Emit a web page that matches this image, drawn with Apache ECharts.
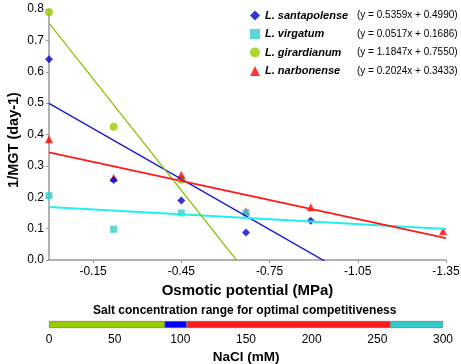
<!DOCTYPE html>
<html>
<head>
<meta charset="utf-8">
<script src="https://cdn.jsdelivr.net/npm/echarts@6/dist/echarts.min.js"></script>
<style>
html, body { margin: 0; padding: 0; background: #fff; }
#main { width: 461px; height: 364px; }
</style>
</head>
<body>
<div id="main"></div>
<script>
//渗透势 (MPa)
var osmotic = [0, -0.22, -0.45, -0.67, -0.89, -1.34];
//各物种 1/MGT
var santapolense = [0.64, 0.255, 0.19, 0.088, 0.125, null];
var virgatum = [0.205, 0.098, 0.15, 0.15, null, null];
var girardianum = [0.79, 0.425, 0.256, null, null, null];
var narbonense = [0.385, 0.262, 0.272, 0.155, 0.168, 0.092];
//趋势线系数 (y = a x + b)
var slopes = [0.5359, 0.0517, 1.1847, 0.2024];
var intercepts = [0.4990, 0.1686, 0.7550, 0.3433];
var speciesNames = ['L. santapolense', 'L. virgatum', 'L. girardianum', 'L. narbonense'];
var xTicks = [-0.15, -0.45, -0.75, -1.05, -1.35];
var yTicks = [0, 0.1, 0.2, 0.3, 0.4, 0.5, 0.6, 0.7, 0.8];
//盐浓度范围 (mM)
var rangeEnds = [88, 105, 260, 300];
var naclTicks = [0, 50, 100, 150, 200, 250, 300];

var FONT = 'Liberation Sans';
var colors = ['#0000cc', '#33cccc', '#99cc00', '#ff0000'];
var lineColors = ['#1a1acc', '#22eeee', '#8cc000', '#ff1a1a'];
var lineWidths = [1.4, 2, 1.3, 1.8];
var symbols = ['diamond', 'rect', 'circle', 'triangle'];
var symbolSizes = [8, 7, 8, 8];
var seriesValues = [santapolense, virgatum, girardianum, narbonense];

var pairs = function(vals) {
	var out = [];
	for (var i = 0; i < osmotic.length; i++) {
		if (vals[i] != null) out.push([osmotic[i], vals[i]]);
	}
	return out;
};

var series = [];
//趋势线
for (var k = 0; k < 4; k++) {
	var xEnd = xTicks[xTicks.length - 1];
	series.push({
		type: 'line',
		xAxisIndex: 0,
		yAxisIndex: 0,
		clip: true,
		symbol: 'none',
		silent: true,
		lineStyle: { color: lineColors[k], width: lineWidths[k] },
		data: [[0, intercepts[k]], [xEnd, slopes[k] * xEnd + intercepts[k]]]
	});
}
//散点 (绘制顺序: 绿, 红, 蓝, 青)
var drawOrder = [2, 3, 0, 1];
drawOrder.forEach(function(k) {
	series.push({
		name: speciesNames[k],
		type: 'scatter',
		xAxisIndex: 0,
		yAxisIndex: 0,
		symbol: symbols[k],
		symbolSize: symbolSizes[k],
		itemStyle: { color: colors[k] },
		data: pairs(seriesValues[k])
	});
});
//盐浓度条
var rangeColors = ['#99cc00', '#0000ff', '#ff1a1a', '#33cccc'];
var prev = 0;
for (var r = 0; r < rangeEnds.length; r++) {
	series.push({
		type: 'bar',
		stack: 'range',
		xAxisIndex: 1,
		yAxisIndex: 1,
		barWidth: 7,
		silent: true,
		itemStyle: { color: rangeColors[r], borderColor: '#666', borderWidth: 0.6 },
		data: [rangeEnds[r] - prev]
	});
	prev = rangeEnds[r];
}

var legendData = [0, 1, 2, 3].map(function(k) {
	return { name: speciesNames[k], icon: symbols[k] };
});

var option = {
	animation: false,
	color: colors,
	title: {
		text: 'Salt concentration range for optimal competitiveness',
		left: 93,
		top: 305,
		padding: 0,
		textStyle: { fontFamily: FONT, fontSize: 12, fontWeight: 'bold', color: '#000' }
	},
	graphic: [{
		type: 'text',
		x: 14,
		y: 140,
		rotation: Math.PI / 2,
		style: {
			text: '1/MGT (day-1)',
			fontFamily: FONT,
			fontSize: 14.5,
			fontWeight: 'bold',
			fill: '#000',
			align: 'center',
			verticalAlign: 'middle'
		}
	}],
	legend: {
		orient: 'vertical',
		left: 250,
		top: 10,
		padding: 0,
		itemWidth: 10,
		itemHeight: 10,
		itemGap: 7.5,
		data: legendData,
		formatter: function(name) {
			var k = speciesNames.indexOf(name);
			return '{n|' + name + '}{e|(y = ' + slopes[k].toFixed(4) + 'x + ' + intercepts[k].toFixed(4) + ')}';
		},
		textStyle: {
			rich: {
				n: { fontFamily: FONT, fontSize: 11, fontWeight: 'bold', fontStyle: 'italic', color: '#000', width: 92, lineHeight: 13 },
				e: { fontFamily: FONT, fontSize: 10, color: '#000', lineHeight: 13 }
			}
		}
	},
	grid: [
		{ left: 49, right: 15, top: 9, height: 251, outerBoundsMode: 'none', containLabel: false },
		{ left: 49, right: 18, top: 321, height: 7, outerBoundsMode: 'none', containLabel: false }
	],
	xAxis: [{
		type: 'value',
		gridIndex: 0,
		min: -1.35,
		max: 0,
		inverse: true,
		splitLine: { show: false },
		axisLine: { lineStyle: { color: '#999', width: 1.5 } },
		axisTick: { show: true, length: 3, lineStyle: { color: '#999' }, customValues: xTicks },
		axisLabel: {
			customValues: xTicks,
			fontFamily: FONT, fontSize: 12, color: '#000', margin: 6,
			formatter: function(v) { return v.toFixed(2); }
		},
		name: 'Osmotic potential (MPa)',
		nameLocation: 'middle',
		nameGap: 22,
		nameTextStyle: { fontFamily: FONT, fontSize: 15, fontWeight: 'bold', color: '#000' }
	}, {
		type: 'value',
		gridIndex: 1,
		min: 0,
		max: 300,
		interval: 50,
		splitLine: { show: false },
		axisLine: { show: false },
		axisTick: { show: false },
		axisLabel: {
			customValues: naclTicks,
			fontFamily: FONT, fontSize: 12, color: '#000', margin: 6
		},
		name: 'NaCl (mM)',
		nameLocation: 'middle',
		nameGap: 22,
		nameTextStyle: { fontFamily: FONT, fontSize: 13.5, fontWeight: 'bold', color: '#000' }
	}],
	yAxis: [{
		type: 'value',
		gridIndex: 0,
		min: 0,
		max: 0.8,
		interval: 0.1,
		splitLine: { show: false },
		axisLine: { show: true, lineStyle: { color: '#999', width: 1.5 } },
		axisTick: { show: true, length: 3, lineStyle: { color: '#999' } },
		axisLabel: {
			customValues: yTicks,
			fontFamily: FONT, fontSize: 12, color: '#000', margin: 5,
			formatter: function(v) { return v.toFixed(1); }
		}
	}, {
		type: 'category',
		gridIndex: 1,
		data: ['range'],
		show: false
	}],
	series: series
};

var chart = echarts.init(document.getElementById('main'));
chart.setOption(option);
</script>
</body>
</html>
